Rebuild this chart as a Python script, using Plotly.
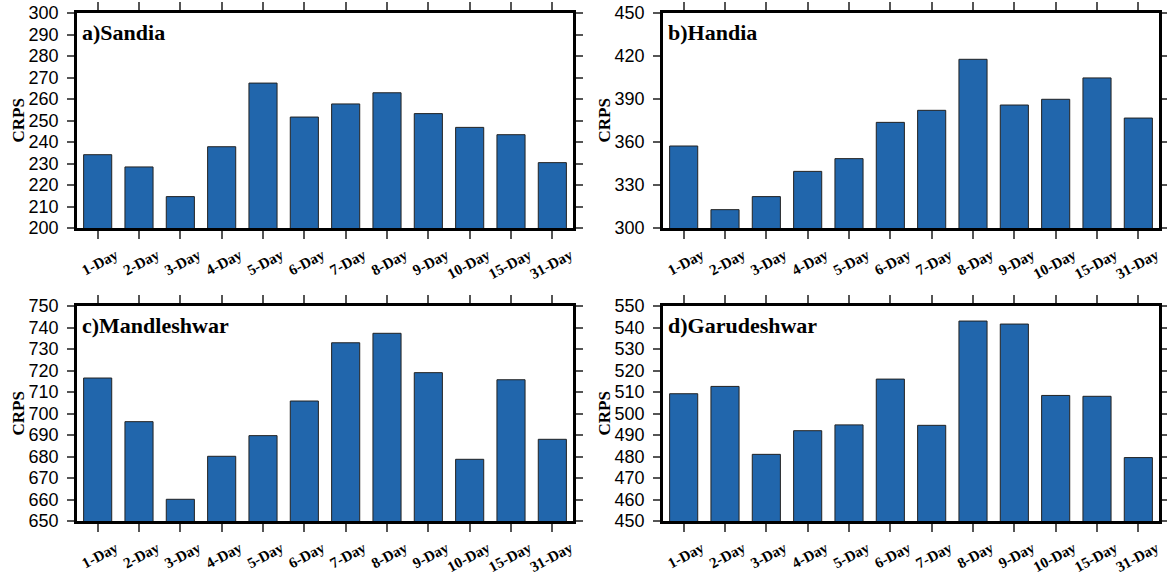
import plotly.graph_objects as go

categories = ["1-Day", "2-Day", "3-Day", "4-Day", "5-Day", "6-Day", "7-Day",
              "8-Day", "9-Day", "10-Day", "15-Day", "31-Day"]

sandia = [234.1, 228.4, 214.6, 237.8, 267.4, 251.6, 257.7, 262.9, 253.2, 246.8, 243.4, 230.4]
handia = [357.2, 312.8, 321.9, 339.5, 348.4, 373.7, 382.1, 417.7, 385.8, 389.8, 404.7, 376.7]
mandleshwar = [716.5, 696.2, 660.1, 680.1, 689.7, 705.8, 732.9, 737.3, 719.0, 678.7, 715.7, 688.0]
garudeshwar = [509.2, 512.6, 481.0, 492.0, 494.7, 516.0, 494.5, 543.0, 541.6, 508.4, 508.0, 479.5]

titles = ["a)Sandia", "b)Handia", "c)Mandleshwar", "d)Garudeshwar"]
y_label = "CRPS"
y_ranges = [(200, 300), (300, 450), (650, 750), (450, 550)]
y_dticks = [10, 30, 10, 10]

series = [sandia, handia, mandleshwar, garudeshwar]

W, H = 1167, 576
# pixel boxes (left, right, top, bottom)
boxes = [(77, 573, 13, 228), (663, 1159, 13, 228),
         (77, 573, 306, 521), (663, 1159, 306, 521)]

fig = go.Figure()
serif = "Liberation Serif"
sans = "Liberation Sans"

for i, (vals, title, yr, dt, box) in enumerate(zip(series, titles, y_ranges, y_dticks, boxes)):
    n = "" if i == 0 else str(i + 1)
    xa, ya = "x" + n, "y" + n
    fig.add_trace(go.Bar(
        x=categories, y=vals, xaxis=xa, yaxis=ya,
        marker=dict(color="#2166ac", line=dict(color="#222222", width=1)),
        showlegend=False,
    ))
    l, r, t, b = box
    xdom = [l / W, r / W]
    ydom = [1 - b / H, 1 - t / H]
    fig.layout["xaxis" + n] = dict(
        domain=xdom, anchor=ya, type="category", automargin=False,
        showline=True, linewidth=2.5, linecolor="black", mirror="ticks",
        ticks="outside", ticklen=8, tickwidth=1.5, tickcolor="#555555",
        tickangle=-28, ticklabelshift=18, ticklabelstandoff=2,
        tickfont=dict(family=serif, size=15, color="black", weight="bold"),
        showgrid=False, zeroline=False, fixedrange=True,
    )
    fig.layout["yaxis" + n] = dict(
        domain=ydom, anchor=xa, range=list(yr), dtick=dt, tick0=yr[0], automargin=False,
        showline=True, linewidth=2.5, linecolor="black", mirror="ticks",
        ticks="outside", ticklen=7, tickwidth=1.5, tickcolor="#555555",
        ticklabelstandoff=5,
        tickfont=dict(family=sans, size=18, color="black"),
        showgrid=False, zeroline=False, fixedrange=True,
    )
    fig.add_annotation(
        text=title, xref=xa + " domain", yref=ya + " domain",
        x=0.006, y=0.975, xanchor="left", yanchor="top", showarrow=False,
        font=dict(family=serif, size=22, color="black", weight="bold"),
    )
    fig.add_annotation(
        text=y_label, xref=xa + " domain", yref=ya + " domain",
        x=0, y=0.5, xshift=-59, xanchor="center", yanchor="middle",
        textangle=-90, showarrow=False,
        font=dict(family=serif, size=17, color="black", weight="bold"),
    )

fig.update_layout(
    width=W, height=H, autosize=False,
    margin=dict(l=0, r=0, t=0, b=0, pad=0),
    paper_bgcolor="white", plot_bgcolor="white",
    bargap=0.32,
)

fig.write_html("out.html")
